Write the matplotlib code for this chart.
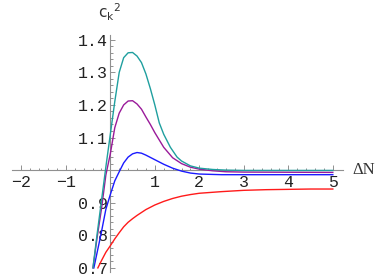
import numpy as np
import matplotlib
matplotlib.use("Agg")
import matplotlib.pyplot as plt
from matplotlib.ticker import FixedLocator

# values
x_teal = [-0.39, -0.3, -0.2, -0.1, 0.0, 0.1, 0.2, 0.3, 0.4, 0.5, 0.6, 0.7, 0.8, 0.9,
          1.0, 1.1, 1.2, 1.35, 1.5, 1.6, 1.8, 2.0, 2.3, 2.6, 3.0, 5.0]
y_teal = [0.70, 0.80, 0.905, 1.01, 1.11, 1.21, 1.30, 1.345, 1.36, 1.361, 1.35, 1.33, 1.295, 1.25,
          1.20, 1.145, 1.11, 1.07, 1.04, 1.028, 1.013, 1.006, 1.002, 1.0, 0.999, 0.999]

x_purple = [-0.39, -0.3, -0.2, -0.1, 0.0, 0.1, 0.2, 0.3, 0.4, 0.5, 0.6, 0.7, 0.8, 0.9,
            1.0, 1.2, 1.4, 1.6, 1.8, 2.0, 2.3, 2.6, 3.0, 5.0]
y_purple = [0.70, 0.79, 0.88, 0.985, 1.05, 1.13, 1.175, 1.20, 1.212, 1.213, 1.203, 1.187, 1.163, 1.14,
            1.115, 1.07, 1.038, 1.02, 1.009, 1.003, 0.998, 0.995, 0.994, 0.993]

x_blue = [-0.37, -0.3, -0.2, -0.1, 0.0, 0.1, 0.2, 0.3, 0.4, 0.5, 0.6, 0.7, 0.8, 0.9,
          1.0, 1.2, 1.4, 1.6, 1.8, 2.0, 2.5, 5.0]
y_blue = [0.70, 0.745, 0.81, 0.88, 0.925, 0.967, 0.995, 1.022, 1.04, 1.05, 1.054, 1.052, 1.046, 1.039,
          1.032, 1.018, 1.006, 0.997, 0.991, 0.988, 0.986, 0.986]

x_red = [-0.28, -0.2, -0.1, 0.0, 0.1, 0.2, 0.3, 0.4, 0.5, 0.6, 0.8, 1.0, 1.2, 1.4, 1.6,
         1.8, 2.0, 2.5, 3.0, 3.5, 4.0, 4.5, 5.0]
y_red = [0.70, 0.722, 0.748, 0.768, 0.789, 0.808, 0.826, 0.84, 0.851, 0.861, 0.879, 0.893, 0.904, 0.913, 0.92,
         0.925, 0.929, 0.934, 0.938, 0.940, 0.941, 0.942, 0.942]

x_ticks = [-2, -1, 1, 2, 3, 4, 5]
x_ticklabels = ['\u22122', '\u22121', '1', '2', '3', '4', '5']
y_ticks = [0.7, 0.8, 0.9, 1.1, 1.2, 1.3, 1.4]
y_ticklabels = ['0.7', '0.8', '0.9', '1.1', '1.2', '1.3', '1.4']

fig = plt.figure(figsize=(3.88, 2.78), dpi=100)
ax = fig.add_axes([0, 0, 1, 1])
ax.patch.set_alpha(0)

lw = 1.0
ax.plot(x_red, y_red, color='#ff1a1a', lw=lw, clip_on=False)
ax.plot(x_blue, y_blue, color='#1a1aff', lw=lw, clip_on=False)
ax.plot(x_purple, y_purple, color='#9a1a9a', lw=lw, clip_on=False)
ax.plot(x_teal, y_teal, color='#1f9f9f', lw=lw, clip_on=False)

ax.set_xlim(-2.479, 6.24)
ax.set_ylim(0.669, 1.522)

# axes cross at (0, 1) like Mathematica
for s in ['top', 'right']:
    ax.spines[s].set_visible(False)
ax.spines['left'].set_position(('data', 0))
ax.spines['bottom'].set_position(('data', 1))
ax.spines['left'].set_bounds(0.688, 1.414)
ax.spines['bottom'].set_bounds(-2.2, 5.23)
for s in ['left', 'bottom']:
    ax.spines[s].set_color('#909090')
    ax.spines[s].set_linewidth(0.8)
    ax.spines[s].set_zorder(0)

ax.xaxis.set_major_locator(FixedLocator(x_ticks))
ax.set_xticklabels(x_ticklabels)
ax.yaxis.set_major_locator(FixedLocator(y_ticks))
ax.set_yticklabels(y_ticklabels)
ax.xaxis.set_minor_locator(FixedLocator([v / 5 for v in range(-10, 26) if v % 5 != 0]))
ax.yaxis.set_minor_locator(FixedLocator([0.7 + v * 0.02 for v in range(0, 36) if v % 5 != 0]))

ax.tick_params(which='both', direction='in', color='#909090', width=0.7)
ax.tick_params(which='major', length=3.6)
ax.tick_params(which='minor', length=1.8)
ax.tick_params(axis='x', pad=3.5)
ax.tick_params(axis='y', pad=2)
for lab in ax.get_xticklabels() + ax.get_yticklabels():
    lab.set_fontfamily(['Liberation Mono', 'DejaVu Sans Mono'])
    lab.set_fontsize(12)
    lab.set_color('#222222')

ax.text(5.45, 1.0, '\u0394N', family='Liberation Serif', fontsize=12,
        ha='left', va='center', color='#333333')
ax.text(-0.02, 1.485, r'$\mathregular{c_{k}{}^{2}}$', family='DejaVu Sans', fontsize=11,
        ha='center', va='center', color='#333333')

fig.savefig('out.png', dpi=100)
